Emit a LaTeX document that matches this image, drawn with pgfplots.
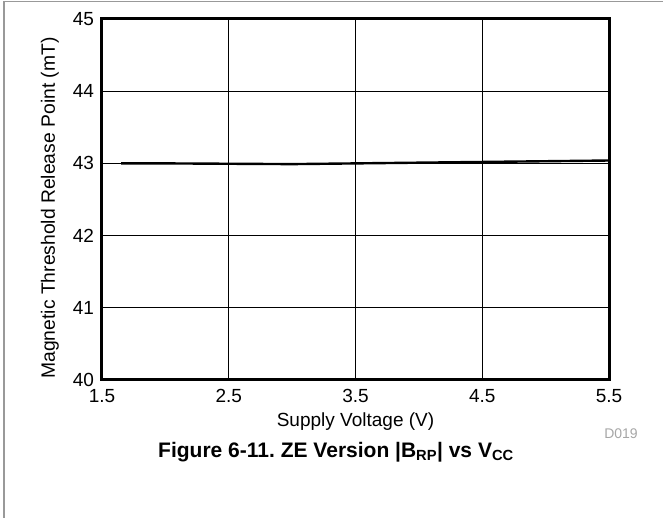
\documentclass[border=0pt]{standalone}
\usepackage{fontspec}
\setmainfont{Liberation Sans}
\usepackage{pgfplots}
\pgfplotsset{compat=1.18}
\frenchspacing
\begin{document}
\begin{tikzpicture}
\path[use as bounding box] (-102pt,-138pt) rectangle (561pt,380pt);
\draw[gray!80, line width=1.5pt] (-98pt,-140pt) -- (-98pt,378.5pt) -- (563pt,378.5pt);
\begin{axis}[
  at={(0pt,0pt)}, anchor=south west,
  scale only axis, width=507pt, height=361pt,
  xmin=1.5, xmax=5.5, ymin=40, ymax=45,
  xtick={1.5,2.5,3.5,4.5,5.5},
  ytick={40,41,42,43,44,45},
  xticklabels={1.5,2.5,3.5,4.5,5.5},
  yticklabels={40,41,42,43,44,45},
  major tick length=0pt,
  grid=major,
  major grid style={black, line width=0.9pt},
  axis line style={black, line width=3pt},
  tick label style={font=\fontsize{19}{22}\selectfont},
  /pgf/number format/assume math mode=true,
  xticklabel style={yshift=-6pt},
  yticklabel style={xshift=-4.5pt},
  clip=false,
]
\addplot[black, line width=2.4pt] coordinates {
  (1.65,43.0) (2.0,43.0) (2.5,42.995) (3.0,42.99) (3.5,43.0) (4.0,43.01) (4.5,43.02) (5.0,43.03) (5.5,43.04)
};
\end{axis}
\node[anchor=base, font=\fontsize{19}{22}\selectfont] at (253.5pt,-47pt) {Supply Voltage (V)};
\node[anchor=base, rotate=90, font=\fontsize{19.3}{22}\selectfont] at (-47pt,172pt) {Magnetic Threshold Release Point (mT)};
\node[anchor=base, font=\fontsize{14}{16}\selectfont, text=black!35] at (519pt,-59pt) {D019};
\node[anchor=base, font=\fontsize{21}{24}\selectfont\bfseries] at (234pt,-77.5pt) {Figure 6-11. ZE Version |B\textsubscript{RP}| vs V\textsubscript{CC}};
\end{tikzpicture}
\end{document}
